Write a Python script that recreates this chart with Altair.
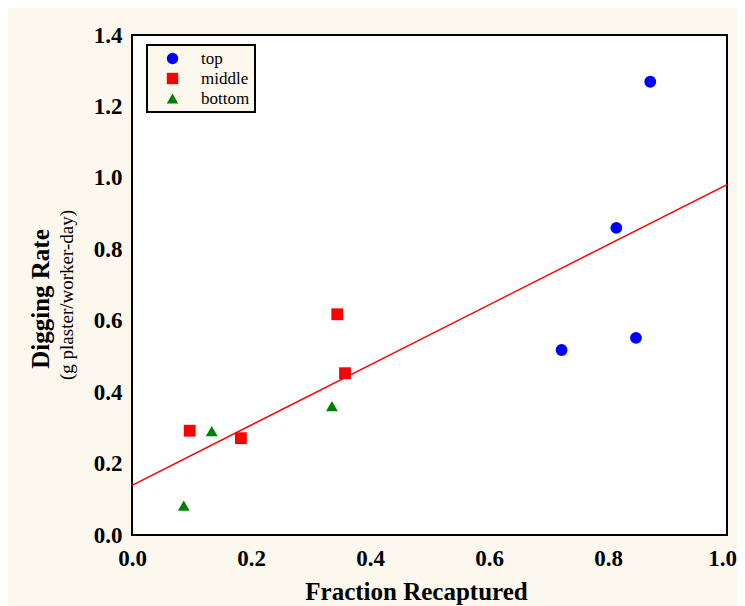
import altair as alt
import pandas as pd

# Data
top_x = [0.722, 0.814, 0.847, 0.871]
top_y = [0.518, 0.860, 0.552, 1.269]
middle_x = [0.097, 0.183, 0.345, 0.358]
middle_y = [0.292, 0.271, 0.618, 0.453]
bottom_x = [0.087, 0.134, 0.336]
bottom_y = [0.082, 0.291, 0.361]

groups = ["top", "middle", "bottom"]
colors = ["#0000FF", "#FF0000", "#008000"]
shapes = ["circle", "square", "triangle-up"]
x_ticks = [0.0, 0.2, 0.4, 0.6, 0.8, 1.0]
y_ticks = [0.0, 0.2, 0.4, 0.6, 0.8, 1.0, 1.2, 1.4]

x_title = "Fraction Recaptured"
y_title = "Digging Rate"
y_subtitle = "(g plaster/worker-day)"

rows = []
for g, xs, ys in [("top", top_x, top_y), ("middle", middle_x, middle_y), ("bottom", bottom_x, bottom_y)]:
    for a, b in zip(xs, ys):
        rows.append({"x": a, "y": b, "group": g})
df = pd.DataFrame(rows)

SERIF = "Liberation Serif"
BG = "#FCF8EE"

xscale = alt.Scale(domain=[0, 1], nice=False, zero=False)
yscale = alt.Scale(domain=[0, 1.4], nice=False, zero=False)

xaxis = alt.Axis(values=x_ticks, format=".1f", title=x_title, grid=False, domain=False,
                 ticks=False, tickSize=0, labelFont=SERIF, labelFontWeight="bold",
                 labelFontSize=23, labelColor="black", labelPadding=12,
                 labelOffset={"condition": {"test": "datum.value >= 1", "value": -5}, "value": 0},
                 titleFont=SERIF, titleFontWeight="bold", titleFontSize=25,
                 titleColor="black", titleX=284, titleY=64, titleAlign="center",
                 titleBaseline="alphabetic", labelFlush=False)
yaxis = alt.Axis(values=y_ticks, format=".1f", title=None, grid=False, domain=False,
                 ticks=False, tickSize=0, labelFont=SERIF, labelFontWeight="bold",
                 labelFontSize=23, labelColor="black", labelPadding=10, labelFlush=False)

base = alt.Chart(df)

points = base.mark_point(filled=True, size=140, opacity=1).encode(
    x=alt.X("x:Q", scale=xscale, axis=xaxis),
    y=alt.Y("y:Q", scale=yscale, axis=yaxis),
    color=alt.Color("group:N", scale=alt.Scale(domain=groups, range=colors),
                    legend=alt.Legend(title=None, orient="none", legendX=15, legendY=10)),
    shape=alt.Shape("group:N", scale=alt.Scale(domain=groups, range=shapes),
                    legend=alt.Legend(title=None, orient="none", legendX=15, legendY=10)),
)

fit = base.transform_regression("x", "y", extent=[0, 1]).mark_line(
    color="#FF0000", strokeWidth=1.5
).encode(x=alt.X("x:Q", scale=xscale), y=alt.Y("y:Q", scale=yscale))

t1 = alt.Chart(pd.DataFrame({"t": [y_title]})).mark_text(
    angle=270, font=SERIF, fontWeight="bold", fontSize=25, color="black",
    align="center", baseline="alphabetic"
).encode(text="t:N", x=alt.value(-83), y=alt.value(264))

t2 = alt.Chart(pd.DataFrame({"t": [y_subtitle]})).mark_text(
    angle=270, font=SERIF, fontSize=19, color="black",
    align="center", baseline="alphabetic"
).encode(text="t:N", x=alt.value(-59), y=alt.value(260))

chart = alt.layer(fit, points, t1, t2).properties(
    width=595, height=500,
    autosize=alt.AutoSizeParams(type="none"),
    padding={"left": 124, "top": 27, "right": 10, "bottom": 71},
    background=BG,
).configure_view(
    fill="white", stroke="black", strokeWidth=2
).configure_legend(
    fillColor=BG, strokeColor="black", strokeWidth=2, padding=5, cornerRadius=0,
    labelFont=SERIF, labelFontSize=17, labelColor="black", symbolSize=130,
    symbolOffset=12, labelOffset=20, rowPadding=2, symbolStrokeWidth=0,
    symbolType="circle"
)

chart.save("out.html", embed_options={"renderer": "svg", "actions": False})
